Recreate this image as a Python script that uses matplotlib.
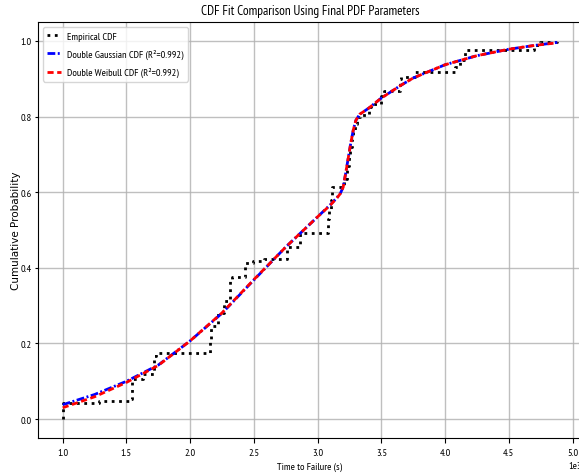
import numpy as np
import matplotlib
matplotlib.use("Agg")
from matplotlib import pyplot as plt

# empirical CDF: step positions (s) and CDF level after each step
ecdf_x = [1000, 1005, 1287, 1536, 1545, 1627, 1720, 1730, 2155, 2160,
          2217, 2262, 2312, 2330, 2428, 2490, 2580, 2760, 2860, 3080,
          3090, 3105, 3110, 3210, 3232, 3245, 3255, 3266, 3280, 3292,
          3310, 3330, 3405, 3420, 3500, 3520, 3648, 3655, 3760, 4080,
          4120, 4156, 4700, 4720, 4745, 4877]
ecdf_y = [0.0, 0.042, 0.048, 0.053, 0.106, 0.119, 0.167, 0.175, 0.21, 0.247,
          0.28, 0.313, 0.365, 0.375, 0.414, 0.418, 0.423, 0.454, 0.491, 0.529,
          0.55, 0.58, 0.613, 0.635, 0.67, 0.70, 0.72, 0.74, 0.76, 0.78,
          0.798, 0.804, 0.825, 0.833, 0.855, 0.868, 0.90, 0.904, 0.917, 0.93,
          0.95, 0.975, 0.983, 0.99, 0.996, 1.0]

# fitted CDFs
fit_x = [1000, 1250, 1500, 1750, 2000, 2250, 2500, 2750, 2900, 3000,
         3100, 3150, 3180, 3200, 3220, 3240, 3260, 3280, 3300, 3330,
         3400, 3500, 3650, 3750, 4000, 4250, 4500, 4700, 4880]
gauss_y = [0.038, 0.065, 0.100, 0.143, 0.207, 0.280, 0.368, 0.455, 0.503, 0.535,
           0.567, 0.585, 0.598, 0.614, 0.650, 0.690, 0.730, 0.765, 0.790, 0.806,
           0.822, 0.849, 0.882, 0.902, 0.937, 0.961, 0.978, 0.988, 0.996]
weibull_y = [0.030, 0.059, 0.097, 0.142, 0.207, 0.281, 0.369, 0.455, 0.503, 0.535,
             0.566, 0.584, 0.597, 0.613, 0.650, 0.690, 0.730, 0.765, 0.790, 0.806,
             0.822, 0.849, 0.882, 0.902, 0.937, 0.961, 0.978, 0.988, 0.995]
r2_gauss = 0.992
r2_weibull = 0.992

plt.rcParams['font.family'] = ['PT Sans Narrow', 'DejaVu Sans']

fig = plt.figure(figsize=(5.79, 4.77), dpi=100)
ax = fig.add_axes([38 / 579, 38 / 477, 544 / 579, 416 / 477])

ax.step(ecdf_x, ecdf_y, where='post', color='black', linestyle=':', linewidth=2, label='Empirical CDF')
ax.plot(fit_x, gauss_y, color='blue', linestyle=(0, (2.8, 0.9, 0.7, 0.9)), linewidth=2,
        label=f'Double Gaussian CDF (R²={r2_gauss:.3f})')
ax.plot(fit_x, weibull_y, color='red', linestyle=(0, (2.2, 1.3)), linewidth=2,
        label=f'Double Weibull CDF (R²={r2_weibull:.3f})')

ax.set_title('CDF Fit Comparison Using Final PDF Parameters', fontsize=9.5)
ax.set_xlabel('Time to Failure (s)', fontsize=7.5)
ax.set_ylabel('Cumulative Probability', fontsize=7.5, family='DejaVu Sans')
ax.yaxis.set_label_coords(-0.031, 0.5)
ax.tick_params(labelsize=7.5)
ax.tick_params(axis='y', length=2.5, pad=2)
ax.ticklabel_format(axis='x', style='sci', scilimits=(0, 0))
ax.xaxis.get_offset_text().set_fontsize(7.5)
ax.grid(True, color='#b0b0b0', alpha=0.8, linewidth=1.0)
ax.legend(loc='upper left', fontsize=7.5, handlelength=1.3, handletextpad=0.6, labelspacing=0.79)

fig.savefig('out.png')
